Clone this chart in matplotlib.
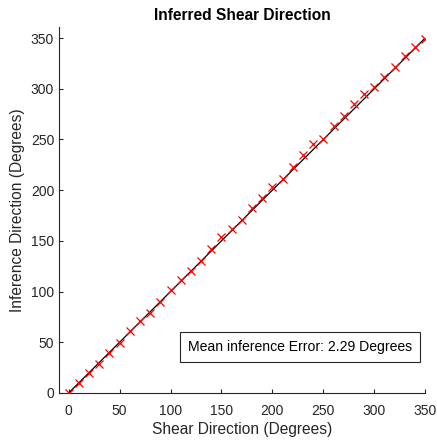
import matplotlib
matplotlib.use("Agg")
import matplotlib.pyplot as plt
import numpy as np

plt.rcParams['font.family'] = ['Liberation Sans', 'DejaVu Sans']

shear_direction = [0, 10, 20, 30, 40, 50, 60, 70, 80, 90, 100, 110, 120, 130, 140, 150,
                   160, 170, 180, 190, 200, 210, 220, 230, 240, 250, 260, 270, 280, 290,
                   300, 310, 320, 330, 340, 350]
inferred_direction = [0, 10, 20, 29, 39, 49.5, 61, 71, 78.5, 90, 101.5, 111.5, 120, 130.5, 141.5, 153.5,
                      162, 171, 182, 192.5, 203, 210.5, 222.5, 234.5, 245.5, 250.5, 263, 273.5, 284.5, 294.5,
                      301.5, 312, 321.5, 332.5, 341, 349.5]
ideal_line = [0, 350]
mean_error = 2.29

fig = plt.figure(figsize=(4.37, 4.41), dpi=100)
ax = fig.add_axes([0.135, 0.109, 0.838, 0.830])

ax.plot(ideal_line, ideal_line, color='black', linewidth=0.9, zorder=2)
ax.plot(shear_direction, inferred_direction, linestyle='none', marker='x',
        color='red', markersize=5.5, markeredgewidth=0.9, zorder=3)

ax.set_xlim(-9.5, 350)
ax.set_ylim(0, 361)
ax.set_xticks(np.arange(0, 351, 50))
ax.set_yticks(np.arange(0, 351, 50))

for s in ['top', 'right']:
    ax.spines[s].set_visible(False)
for s in ['left', 'bottom']:
    ax.spines[s].set_color('#262626')
    ax.spines[s].set_linewidth(0.8)
ax.tick_params(direction='in', length=3, width=0.8, colors='#262626', labelsize=10,
               labelcolor='#262626')
ax.tick_params(axis='x', pad=8)

ax.set_xlabel('Shear Direction (Degrees)', fontsize=11.2, color='#262626', labelpad=3)
ax.set_ylabel('Inference Direction (Degrees)', fontsize=11.2, color='#262626', labelpad=4)
ax.set_title('Inferred Shear Direction', fontsize=11.2, fontweight='bold', color='black', pad=5)

ax.text(0.964, 0.125, f'Mean inference Error: {mean_error:.2f} Degrees',
        transform=ax.transAxes, ha='right', va='center', fontsize=10.1, color='black',
        bbox=dict(boxstyle='square,pad=0.55', facecolor='white', edgecolor='#262626', linewidth=0.8))

fig.savefig('out.png', dpi=100)
